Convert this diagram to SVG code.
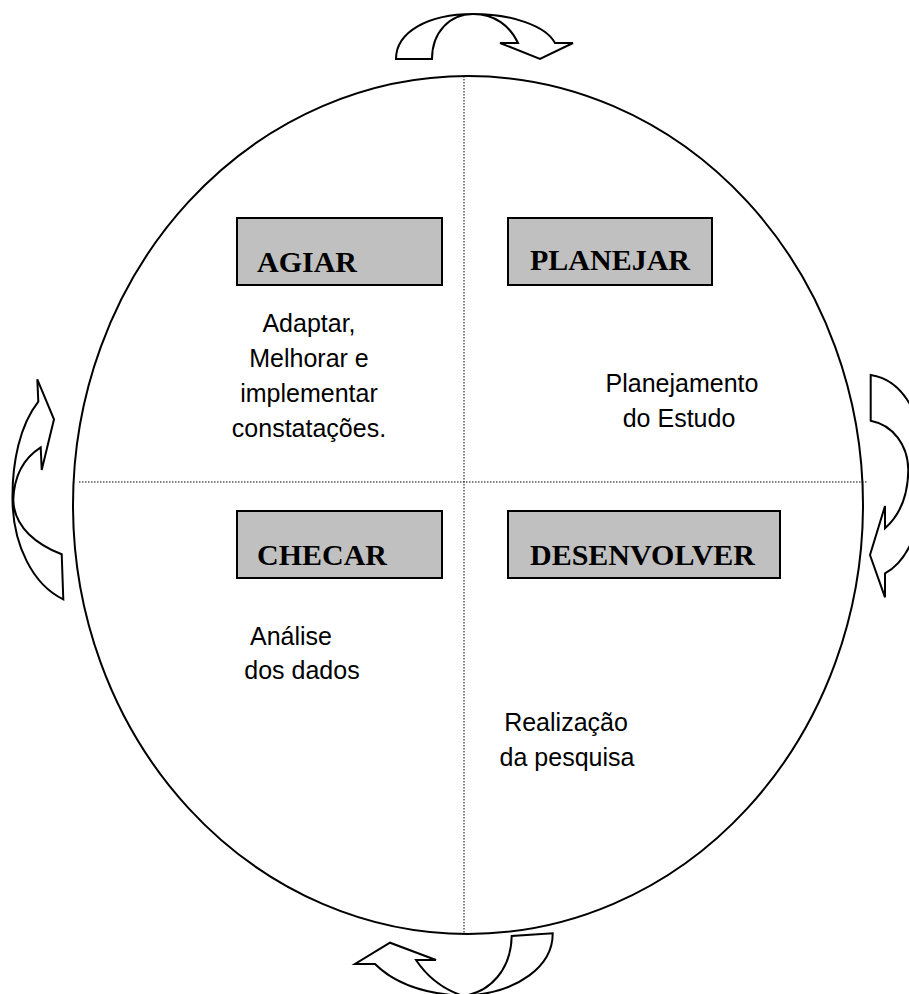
<svg xmlns="http://www.w3.org/2000/svg" width="909" height="994" viewBox="0 0 909 994">
<style>
.box{fill:#c0c0c0;stroke:#000;stroke-width:2}
.lbl{font-family:"Liberation Serif","Times New Roman",serif;font-weight:bold;font-size:30px;fill:#000}
.txt{font-family:"Liberation Sans",Arial,sans-serif;font-size:25px;fill:#000;text-anchor:middle}
.dot{stroke:#000;stroke-width:1;stroke-dasharray:1.5,1.5;fill:none}
.arr{fill:#fff;stroke:#000;stroke-width:2;stroke-linejoin:miter}
</style>
<rect width="909" height="994" fill="#fff"/>
<g id="circle">
<ellipse cx="468" cy="505" rx="395" ry="429" fill="none" stroke="#000" stroke-width="2"/>
</g>
<g id="connectors">
<line class="dot" x1="464" y1="76" x2="464" y2="934"/>
<line class="dot" x1="79" y1="482" x2="868" y2="482"/>
<path id="arrow-top" class="arr" d="M396,59 C396,32 428,14 473,14 C512,14 546,26 555,43 L573,43 L540,59 L500,43 L518,43 C510,26 495,14 473,14 C450,14 432,32 432,59 Z"/>
<path id="arrow-left" class="arr" d="M38.3,401.7 C20,425 12,462 12.5,500 C13,545 33,585 63.3,599.3 L61.7,554.3 C38,545 14,528 13.3,500 C14,475 24,458 40.7,447.3 L41.7,470 L54,419.3 L37.3,379.3 Z"/>
<path id="arrow-right" class="arr" d="M870.7,375 C905,380 925,420 925,470 C925,520 910,560 885,573.3 L885,597.3 L870,555 L885,506 L885,528.3 C900,515 908,495 908.3,470 C908,445 893,425 870.7,420.7 Z"/>
<path id="arrow-bottom" class="arr" d="M552.7,933.3 C553,965 520,993 463.3,996 C425,994 395,984 375,964 L355,964 L390,942.7 L436,960 L416,960 C428,978 445,990 463.3,996 C490,992 511,970 511.7,936 Z"/>
</g>
<g id="agiar">
<rect class="box" x="237" y="218" width="205" height="67"/>
<text class="lbl" x="257" y="272">AGIAR</text>
<text class="txt" x="309" y="332">Adaptar,</text>
<text class="txt" x="309" y="367">Melhorar e</text>
<text class="txt" x="309" y="402">implementar</text>
<text class="txt" x="309" y="437">constatações.</text>
</g>
<g id="planejar">
<rect class="box" x="508" y="218" width="204" height="67"/>
<text class="lbl" x="530" y="270">PLANEJAR</text>
<text class="txt" x="682" y="392">Planejamento</text>
<text class="txt" x="679" y="427">do Estudo</text>
</g>
<g id="checar">
<rect class="box" x="237" y="511" width="205" height="67"/>
<text class="lbl" x="257" y="565">CHECAR</text>
<text class="txt" x="291" y="645">Análise</text>
<text class="txt" x="302" y="679">dos dados</text>
</g>
<g id="desenvolver">
<rect class="box" x="508" y="511" width="272" height="67"/>
<text class="lbl" x="530" y="565">DESENVOLVER</text>
<text class="txt" x="566" y="731">Realização</text>
<text class="txt" x="567" y="766">da pesquisa</text>
</g>
</svg>
